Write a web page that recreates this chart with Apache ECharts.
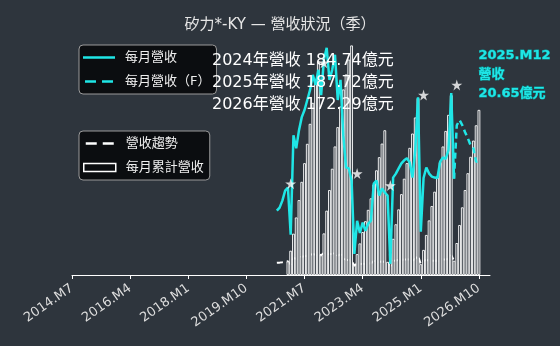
<!DOCTYPE html>
<html>
<head>
<meta charset="utf-8">
<script src="https://cdn.jsdelivr.net/npm/echarts@6/dist/echarts.min.js"></script>
<style>
html,body{margin:0;padding:0;background:#2e353d;}
#c{width:560px;height:346px;}
</style>
</head>
<body>
<div id="c"></div>
<script>
// ---- data ----
var axisStart = [2014, 7];      // first category (year, month)
var axisCount = 152;            // 2014.M7 .. 2027.M2
var labelEvery = 21;            // tick label every 21 months

var monthlyStart = '2020.M9';
var monthlyRevenue = [
  12.69, 12.90, 13.37, 14.05,
  14.26, 11.06, 17.80, 16.91, 18.14, 19.02, 19.50, 20.18, 20.86, 21.88, 21.20, 22.22,
  20.51, 22.90, 23.71, 21.54, 22.22, 23.24, 20.18, 21.54, 17.80, 15.62, 15.55, 14.73,
  9.76, 12.01, 11.18, 11.88, 11.33, 11.81, 12.01, 14.52, 14.73, 13.71, 14.19, 13.92,
  13.71, 9.09, 14.93, 15.20, 15.55, 15.89, 16.10, 16.24, 15.96, 14.93, 16.78, 20.36,
  11.27, 14.90, 15.61, 15.20, 15.00, 14.93, 14.90, 16.00, 16.30, 16.20, 16.78, 20.65,
  14.86
];

var forecastStart = '2026.M1';
var forecastRevenue = [14.86, 18.47, 18.82, 18.47, 18.00, 17.59, 17.11, 16.91, 16.00, 16.06];

var cumulativeStart = '2021.M1';
var cumulativeRevenue = [
  14.26, 25.32, 43.12, 60.03, 78.17, 97.19, 116.69, 136.87, 157.73, 179.61, 200.81, 223.03,
  20.51, 43.41, 67.12, 88.66, 110.88, 134.12, 154.30, 175.84, 193.64, 209.26, 224.81, 239.54,
  9.76, 21.77, 32.95, 44.83, 56.16, 67.97, 79.98, 94.50, 109.23, 122.94, 137.13, 151.05,
  13.71, 22.80, 37.73, 52.93, 68.48, 84.37, 100.47, 116.71, 132.67, 147.60, 164.38, 184.74,
  11.27, 26.17, 41.78, 56.98, 71.98, 86.91, 101.81, 117.81, 134.11, 150.31, 167.09, 187.72,
  14.86, 33.33, 52.15, 70.62, 88.62, 106.21, 123.32, 140.23, 156.23, 172.29
];

var starMonths = ['2021.M2', '2022.M2', '2023.M2', '2024.M2', '2025.M2', '2026.M2'];
var starValues = [14.52, 22.70, 15.20, 14.39, 20.52, 21.20];

var yearTexts = ['2024年營收 184.74億元', '2025年營收 187.72億元', '2026年營收 172.29億元'];
var noteText = ['2025.M12', '營收', '20.65億元'];

// ---- build ----
var categories = [];
(function(){
  var y = axisStart[0], m = axisStart[1];
  for (var i = 0; i < axisCount; i++) {
    categories.push(y + '.M' + m);
    m++; if (m > 12) { m = 1; y++; }
  }
})();
function place(start, values) {
  var arr = new Array(categories.length).fill(null);
  var s = categories.indexOf(start);
  for (var i = 0; i < values.length; i++) arr[s + i] = values[i];
  return arr;
}
var starData = starMonths.map(function(c, i){ return [c, starValues[i]]; });

var BG = '#2e353d';
var CYAN = '#1fe6e6';
var FONT = '"DejaVu Sans", "Noto Sans CJK TC", sans-serif';
// legend icons (bounding box 0..32 x 0..8)
var ICON_SOLID = 'path://M0,0L0.01,0L0.01,0.01Z M0,2.8L32,2.8L32,5.2L0,5.2Z M31.99,8L32,8L32,7.99Z';
var ICON_DASH = 'path://M0,0L0.01,0L0.01,0.01Z M2,2.8L13,2.8L13,5.2L2,5.2Z M19,2.8L30,2.8L30,5.2L19,5.2Z M31.99,8L32,8L32,7.99Z';

var legendBase = {
  orient: 'vertical', left: 79,
  itemWidth: 32, itemHeight: 8, itemGap: 9,
  padding: [5, 6, 5, 4],
  backgroundColor: '#0b0d10', borderColor: '#9a9a9a', borderWidth: 1, borderRadius: 4,
  textStyle: {color: '#eeeeee', fontSize: 13, lineHeight: 15, fontFamily: FONT, padding: [0, 0, 0, 5]},
  selectedMode: false
};

var chart = echarts.init(document.getElementById('c'), null, {renderer: 'canvas'});
chart.setOption({
  backgroundColor: BG,
  animation: false,
  title: {
    text: '矽力*-KY — 營收狀況（季）',
    left: 'center', top: 13,
    textStyle: {color: '#e6e6e6', fontSize: 15, fontWeight: 'normal', fontFamily: FONT}
  },
  legend: [
    Object.assign({}, legendBase, {
      top: 45,
      data: [{name: '每月營收', icon: ICON_SOLID}, {name: '每月營收（F）', icon: ICON_DASH}]
    }),
    Object.assign({}, legendBase, {
      top: 131,
      data: [
        {name: '營收趨勢', icon: ICON_DASH},
        {name: '每月累計營收', icon: 'rect', itemStyle: {color: '#0b0d10', borderColor: '#ffffff', borderWidth: 1.5}}
      ]
    })
  ],
  grid: {left: 72, right: 70, top: 45, bottom: 71},
  xAxis: {
    type: 'category', data: categories, boundaryGap: false,
    axisLine: {lineStyle: {color: '#ffffff', width: 1}},
    axisTick: {interval: labelEvery - 1, length: 4, lineStyle: {color: '#ffffff'}},
    axisLabel: {interval: labelEvery - 1, rotate: 35, color: '#dddddd', fontSize: 13, fontFamily: FONT, margin: 12},
    splitLine: {show: false}
  },
  yAxis: [
    {type: 'value', min: 0, max: 240, show: false, splitLine: {show: false}},
    {type: 'value', min: 8.34, max: 23.9, show: false, splitLine: {show: false}}
  ],
  series: [
    {
      name: '營收趨勢', type: 'line', yAxisIndex: 0, z: 1,
      data: place(monthlyStart, monthlyRevenue), symbol: 'none',
      lineStyle: {color: '#ffffff', width: 2, type: [6, 4]},
      itemStyle: {color: '#ffffff'}
    },
    {
      name: '每月累計營收', type: 'bar', yAxisIndex: 0, z: 2,
      data: place(cumulativeStart, cumulativeRevenue),
      barCategoryGap: '0%',
      itemStyle: {color: BG, borderColor: '#ffffff', borderWidth: 0.9}
    },
    {
      name: '每月營收', type: 'line', yAxisIndex: 1, z: 3,
      data: place(monthlyStart, monthlyRevenue), symbol: 'none',
      lineStyle: {color: CYAN, width: 2.5}, itemStyle: {color: CYAN}
    },
    {
      name: '每月營收（F）', type: 'line', yAxisIndex: 1, z: 3,
      data: place(forecastStart, forecastRevenue), symbol: 'none',
      lineStyle: {color: CYAN, width: 2.5, type: [6, 4]}, itemStyle: {color: CYAN}
    },
    {
      name: 'star', type: 'scatter', yAxisIndex: 1, z: 4,
      data: starData,
      symbol: 'path://M50,0 L61,35 L98,35 L68,57 L79,91 L50,70 L21,91 L32,57 L2,35 L39,35 Z',
      symbolSize: 11,
      itemStyle: {color: '#ffffff'}
    }
  ],
  graphic: [
    {type: 'text', z: 100, left: 212, top: 53, style: {text: yearTexts[0], fill: '#ffffff', font: '16px ' + FONT}},
    {type: 'text', z: 100, left: 212, top: 75, style: {text: yearTexts[1], fill: '#ffffff', font: '16px ' + FONT}},
    {type: 'text', z: 100, left: 212, top: 97, style: {text: yearTexts[2], fill: '#ffffff', font: '16px ' + FONT}},
    {type: 'text', z: 100, left: 478, top: 46, style: {text: noteText.join('\n'), fill: CYAN, stroke: '#0b9d9d', lineWidth: 0.8, lineHeight: 19, font: 'bold 13px ' + FONT}}
  ]
});
</script>
</body>
</html>
